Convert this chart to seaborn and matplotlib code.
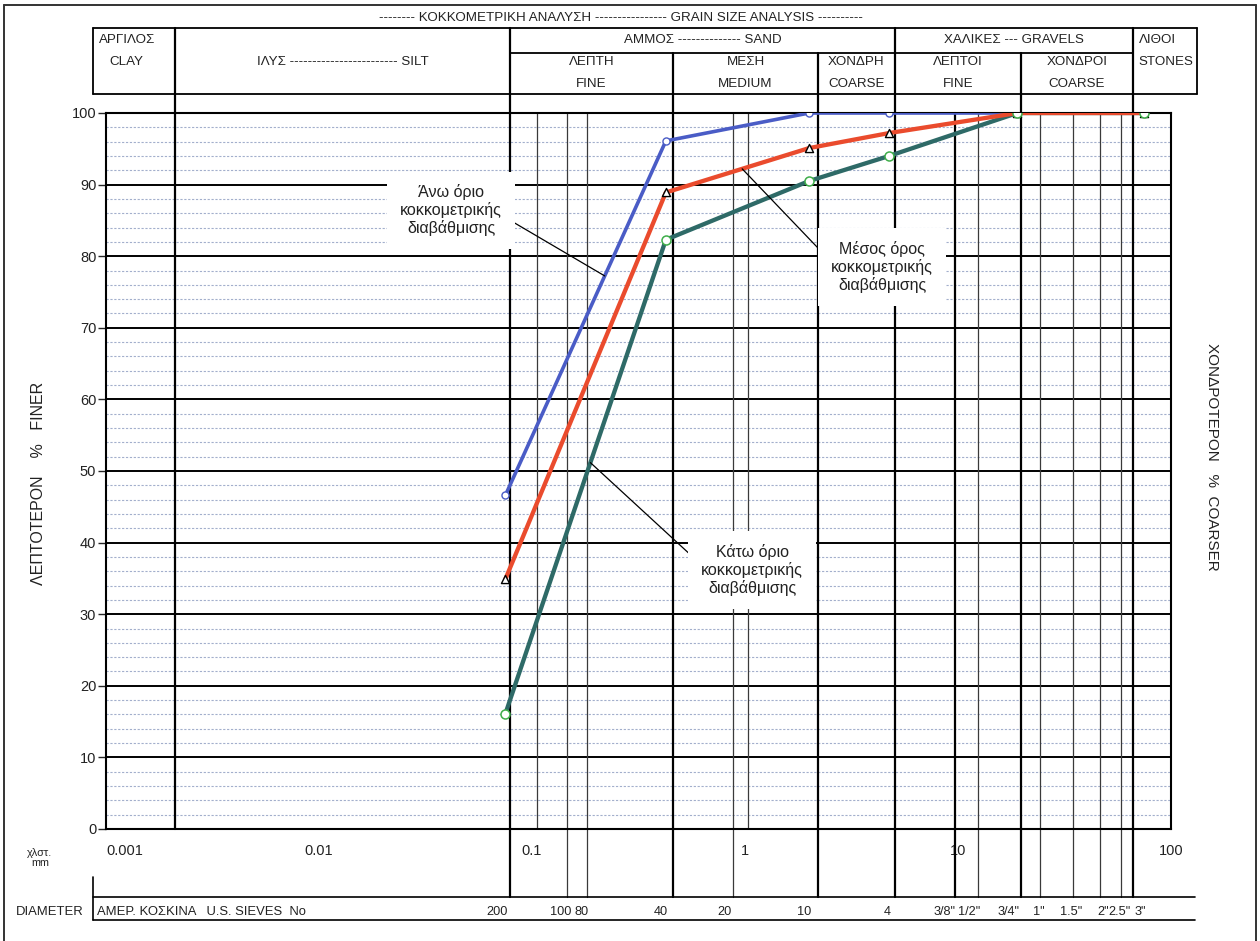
import numpy as np
import matplotlib
matplotlib.use("Agg")
import matplotlib.pyplot as plt
import matplotlib.transforms as mtransforms
from matplotlib.lines import Line2D
from matplotlib.ticker import LogLocator, FixedLocator, FixedFormatter, NullFormatter, MultipleLocator
import seaborn as sns

# ---------------- data ----------------
# sieve openings (mm) at which the gradation envelope is defined
sieve_sizes_mm = [0.075, 0.425, 2.0, 4.75, 19.0, 75.0]
upper_limit = [46.6, 96.1, 100.0, 100.0, 100.0, 100.0]
mean_curve = [34.9, 88.9, 95.1, 97.2, 100.0, 100.0]
lower_limit = [16.1, 82.3, 90.5, 94.0, 100.0, 100.0]

# printed template: US sieve numbers, their nominal openings and the ruled lines
sieve_labels = ['200', '100', '80', '40', '20', '10', '4', '3/8"', '1/2"', '3/4"',
                '1"', '1.5"', '2"', '2.5"', '3"']
sieve_nominal_mm = [0.075, 0.15, 0.18, 0.425, 0.85, 2.0, 4.75, 9.5, 12.5, 19.0,
                    25.0, 37.5, 50.0, 63.0, 75.0]
sieve_line_mm = [0.079, 0.146, 0.181, 0.46, 0.88, 2.2, 5.06, 9.7, 12.4, 19.8,
                 24.3, 34.7, 46.4, 58.2, 66.3]
sieve_heavy = ['200', '40', '10', '4', '3/8"', '3/4"', '3"']
decade_line_mm = [0.105, 1.03]
clay_silt_mm = 0.0021

x_tick_values = [0.001, 0.01, 0.1, 1, 10, 100]
x_tick_labels = ['0.001', '0.01', '0.1', '1', '10', '100']

# soil class boundaries in the header (mm)
bound = dict(clay=clay_silt_mm, silt=0.079, fsand=0.46, msand=2.2,
             csand=5.06, fgrav=19.8, cgrav=66.3)

# ---------------- style ----------------
sns.set_theme(style="white")
plt.rcParams['font.family'] = ['Liberation Sans', 'DejaVu Sans']
plt.rcParams['axes.unicode_minus'] = False

BLUE = '#4a5cc6'
RED = '#ea4b2d'
TEAL = '#2e6a67'
GREEN = '#3fae4a'
MINOR = '#a3afcc'
INK = '#222222'

W, H = 1260, 941
fig = plt.figure(figsize=(W / 100, H / 100), dpi=100)
ax = fig.add_axes([106 / W, (H - 829) / H, 1065 / W, 716 / H])
ax.set_xscale('log')
ax.set_xlim(0.001, 100)
ax.set_ylim(0, 100)

# blended transform: x in axes fraction, y in data units
tx = mtransforms.blended_transform_factory(ax.transAxes, ax.transData)


def px_shift(dx):
    return mtransforms.ScaledTranslation(dx / 100, 0, fig.dpi_scale_trans)


# ---------------- grid ----------------
ax.yaxis.set_major_locator(MultipleLocator(10))
ax.yaxis.set_minor_locator(MultipleLocator(2))
ax.grid(which='major', axis='y', color='black', lw=1.4, zorder=1)
ax.grid(which='minor', axis='y', color=MINOR, lw=0.8, ls=(0, (2, 1.5)), zorder=0.5)
ax.grid(which='both', axis='x', visible=False)

for s in ax.spines.values():
    s.set_color('black')
    s.set_linewidth(1.5)

Y_HEAD_TOP, Y_HEAD_MID, Y_HEAD_BOT = 111.9, 108.4, 102.6
Y_FOOT_TOP, Y_FOOT_BOT, Y_FOOT_BOX = -9.5, -12.7, -6.7

# ruled sieve lines run down into the footer row
for lab, mm in zip(sieve_labels, sieve_line_mm):
    heavy = lab in sieve_heavy
    ax.plot([mm, mm], [Y_FOOT_TOP, 100], color='black' if heavy else '#3a3a3a',
            lw=1.6 if heavy else 0.9, clip_on=False, zorder=2)
for mm in decade_line_mm:
    ax.plot([mm, mm], [0, 100], color='#3a3a3a', lw=0.9, zorder=2)
ax.plot([clay_silt_mm] * 2, [0, Y_HEAD_TOP], color='black', lw=1.6, clip_on=False, zorder=2)

# zone boundaries continue up into the header
for mm in [bound['silt'], bound['csand'], bound['cgrav']]:
    ax.plot([mm, mm], [100, Y_HEAD_TOP], color='black', lw=1.6, clip_on=False, zorder=2)
for mm in [bound['fsand'], bound['msand'], bound['fgrav']]:
    ax.plot([mm, mm], [100, Y_HEAD_MID], color='black', lw=1.6, clip_on=False, zorder=2)
HX0, HX1 = -0.0122, 1.0244
for y in [Y_HEAD_TOP, Y_HEAD_BOT]:
    ax.plot([HX0, HX1], [y, y], color='black', lw=1.3, transform=tx, clip_on=False)
for x in [HX0, HX1]:
    ax.plot([x, x], [Y_HEAD_BOT, Y_HEAD_TOP], color='black', lw=1.3, transform=tx, clip_on=False)
ax.plot([bound['silt'], bound['cgrav']], [Y_HEAD_MID] * 2, color='black', lw=1.3, clip_on=False)

# footer box
FX1 = 1.0225
for y in [Y_FOOT_TOP, Y_FOOT_BOT]:
    ax.plot([HX0, FX1], [y, y], color='black', lw=1.2, transform=tx, clip_on=False)
ax.plot([HX0, HX0], [Y_FOOT_BOX, Y_FOOT_BOT], color='black', lw=1.2, transform=tx, clip_on=False)


def gmid(a, b):
    return 10 ** ((np.log10(a) + np.log10(b)) / 2)


htxt = dict(ha='center', va='center', fontsize=9.6, color=INK, clip_on=False)
ax.text(0.4836, 113.3, '-------- ΚΟΚΚΟΜΕΤΡΙΚΗ ΑΝΑΛΥΣΗ ---------------- GRAIN SIZE ANALYSIS ----------',
        transform=tx, **htxt)
ax.text(0.0195, 110.2, 'ΑΡΓΙΛΟΣ', transform=tx, **htxt)
ax.text(0.0195, 107.1, 'CLAY', transform=tx, **htxt)
ax.text(gmid(clay_silt_mm, bound['silt']), 107.1, 'ΙΛΥΣ ------------------------ SILT', **htxt)
ax.text(gmid(bound['silt'], bound['csand']), 110.2, 'ΑΜΜΟΣ -------------- SAND', **htxt)
ax.text(gmid(bound['csand'], bound['cgrav']), 110.2, 'ΧΑΛΙΚΕΣ --- GRAVELS', **htxt)
ax.text(bound['cgrav'], 110.2, 'ΛΙΘΟΙ', transform=ax.transData + px_shift(6), **{**htxt, 'ha': 'left'})
ax.text(bound['cgrav'], 107.1, 'STONES', transform=ax.transData + px_shift(5), **{**htxt, 'ha': 'left'})
subcls = [(bound['silt'], bound['fsand'], 'ΛΕΠΤΗ', 'FINE'),
          (bound['fsand'], bound['msand'], 'ΜΕΣΗ', 'MEDIUM'),
          (bound['msand'], bound['csand'], 'ΧΟΝΔΡΗ', 'COARSE'),
          (bound['csand'], bound['fgrav'], 'ΛΕΠΤΟΙ', 'FINE'),
          (bound['fgrav'], bound['cgrav'], 'ΧΟΝΔΡΟΙ', 'COARSE')]
for a, b, gr, en in subcls:
    ax.text(gmid(a, b), 107.1, gr, **htxt)
    ax.text(gmid(a, b), 104.05, en, **htxt)

# footer texts
ftxt = dict(va='center', fontsize=9.4, color=INK, clip_on=False)
ax.text(-0.0526, -11.6, 'DIAMETER', transform=tx, ha='center', **ftxt)
ax.text(-0.0085, -11.6, 'ΑΜΕΡ. ΚΟΣΚΙΝΑ   U.S. SIEVES  No', transform=tx, ha='left', **ftxt)
ax.text(-0.062, -4.0, 'χλστ.\nmm', transform=tx, ha='center', va='center', fontsize=7.8,
        linespacing=1.0, color=INK, clip_on=False)
for lab, mm in zip(sieve_labels, sieve_nominal_mm):
    ax.text(mm, -11.6, lab, ha='right', transform=ax.transData + px_shift(2),
            **{**ftxt, 'fontsize': 9.2})

# ---------------- axes ticks and labels ----------------
ax.xaxis.set_major_locator(FixedLocator(x_tick_values))
ax.xaxis.set_major_formatter(FixedFormatter(x_tick_labels))
ax.xaxis.set_minor_locator(LogLocator(base=10, subs=np.arange(2, 10), numticks=20))
ax.xaxis.set_minor_formatter(NullFormatter())
ax.tick_params(axis='x', which='major', direction='inout', length=14, width=1.2,
               labelsize=10.5, pad=4, colors='black', labelcolor=INK)
ax.tick_params(axis='x', which='minor', direction='in', length=5, width=1.0, colors='black')
ax.tick_params(axis='y', which='major', direction='out', length=6, width=1.0,
               labelsize=10.5, pad=1, left=True, labelcolor=INK)
ax.tick_params(axis='y', which='minor', length=0)
fig.canvas.draw()
ax.get_xticklabels()[0].set_horizontalalignment('left')

ax.text(-0.0638, 48.2, 'ΛΕΠΤΟΤΕΡΟΝ    %   FINER', transform=tx, rotation=90,
        ha='center', va='center', fontsize=11.5, color=INK)
ax.text(1.0385, 52, 'ΧΟΝΔΡΟΤΕΡΟΝ   %  COARSER', transform=tx, rotation=-90,
        ha='center', va='center', fontsize=11, color=INK)

# ---------------- gradation curves ----------------
sns.lineplot(x=sieve_sizes_mm, y=upper_limit, ax=ax, color=BLUE, lw=2.6, sort=False, zorder=5)
sns.lineplot(x=sieve_sizes_mm, y=lower_limit, ax=ax, color=TEAL, lw=3.1, sort=False, zorder=5.1)
sns.lineplot(x=sieve_sizes_mm, y=mean_curve, ax=ax, color=RED, lw=3.1, sort=False, zorder=5.2)

sns.scatterplot(x=sieve_sizes_mm, y=upper_limit, ax=ax, marker='o', s=26, facecolor='white',
                edgecolor=BLUE, linewidth=1.0, zorder=7)
sns.scatterplot(x=sieve_sizes_mm, y=mean_curve, ax=ax, marker='^', s=34, facecolor='white',
                edgecolor='black', linewidth=1.0, zorder=7.1)
sns.scatterplot(x=sieve_sizes_mm, y=lower_limit, ax=ax, marker='o', s=42, facecolor='white',
                edgecolor=GREEN, linewidth=1.1, zorder=7.2)
ax.set_xlabel('')
ax.set_ylabel('')


def on_curve(mm, values):
    return float(np.interp(np.log10(mm), np.log10(sieve_sizes_mm), values))


box = dict(boxstyle='square,pad=0.8', fc='white', ec='none')
note_kw = dict(ha='center', va='center', fontsize=11.5, color=INK, bbox=box,
               linespacing=1.15, zorder=8, annotation_clip=False)
ax.annotate('Άνω όριο\nκοκκομετρικής\nδιαβάθμισης',
            xy=(0.2195, on_curve(0.2195, upper_limit)), xytext=(0.0417, 86.4),
            arrowprops=dict(arrowstyle='-', color='black', lw=0.9, shrinkA=0, shrinkB=0,
                            relpos=(1.0, 0.4)), **note_kw)
ax.annotate('Μέσος όρος\nκοκκομετρικής\nδιαβάθμισης',
            xy=(0.97, on_curve(0.97, mean_curve)), xytext=(4.40, 78.5),
            arrowprops=dict(arrowstyle='-', color='black', lw=0.9, shrinkA=0, shrinkB=0,
                            relpos=(0.0, 0.6)), **note_kw)
ax.annotate('Κάτω όριο\nκοκκομετρικής\nδιαβάθμισης',
            xy=(0.188, on_curve(0.188, lower_limit)), xytext=(1.08, 36.2),
            arrowprops=dict(arrowstyle='-', color='black', lw=0.9, shrinkA=0, shrinkB=0,
                            relpos=(0.0, 0.6)), **note_kw)

# page frame
for xs, ys in [([4 / W, 4 / W], [0, 1 - 5 / H]), ([4 / W, 1256 / W], [1 - 5 / H, 1 - 5 / H]),
               ([1256 / W, 1256 / W], [0, 1 - 5 / H])]:
    fig.add_artist(Line2D(xs, ys, color='#333333', lw=1.4, transform=fig.transFigure))

fig.savefig('out.png', dpi=100, facecolor='white')
